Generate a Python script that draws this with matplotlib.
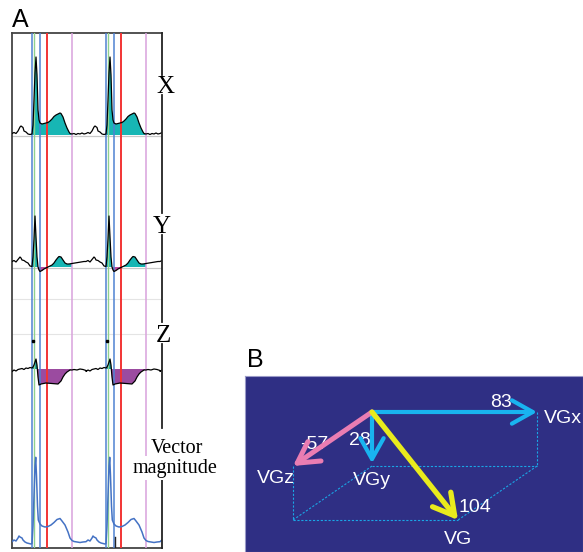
import matplotlib.pyplot as plt
import numpy as np

W, H = 583, 552

# ---- panel A: beat templates (time in samples from QRS onset, amplitude in px) ----
t_x = [-20, -18, -16, -14, -12, -11, -9, -8, -6, -4, -2, 0, 1, 2, 3, 4, 5, 6, 7, 8,
       10, 12, 14, 16, 18, 20, 22, 24, 26, 28, 29, 31, 33, 35, 37, 38, 40, 42, 44, 46, 48, 50, 52, 54]
amp_x = [1.5, 2.5, 1.5, 4, 8, 9, 7.5, 4, 3, 1, 0.5, 1, 10, 35, 62, 78, 60, 25, 15, 12,
         11, 11.5, 12, 12.5, 14, 16, 18.5, 20, 21, 22, 21.5, 18, 12, 7, 3, 1.5, 1, 1.5, 0.5, 1.5, 1, 2, 1, 1.5]

t_y = [-20, -18, -16, -14, -12, -11, -10, -8, -6, -4, -2, 0, 1, 2, 3, 4, 5, 6, 7, 8,
       10, 12, 14, 16, 18, 20, 22, 24, 26, 27, 29, 31, 33, 35, 37, 40, 43, 46, 49, 52, 54]
amp_y = [5.5, 6.5, 5, 7.5, 10, 9, 7, 6.5, 5, 4, 1, 0.5, 10, 28, 51, 30, 10, 0, -3, -4.5,
         -3.5, -2, -1, 0, 1, 2, 4, 7, 9.5, 10.5, 10, 7, 4, 3, 3, 3.5, 4, 4.5, 5, 5.5, 5.5]

t_z = [-20, -18, -16, -14, -12, -10, -8, -6, -4, -2, 0, 1, 2, 3, 4, 5, 6, 7,
       9, 14, 20, 26, 29, 31, 33, 35, 38, 40, 42, 45, 48, 51, 54]
amp_z = [-2.5, -1, -2, -0.5, 0, 0.5, -0.5, 1, 0.5, 1.5, 1, 2, 4, 7, 10, 4, -8, -16,
         -15, -14, -14.5, -15, -12, -8, -5, -3, -1, -1, -0.5, -1, 0, -0.5, -1.5]

t_v = [-20, -18, -16, -14, -13, -12, -10, -9, -7, -5, -3, -1, 0, 1, 2, 3, 3.7, 4.5, 5.5, 6.3,
       8, 10, 13, 16, 19, 22, 25, 28, 30, 33, 36, 38, 40, 42, 45, 48, 51, 54]
amp_v = [4.3, 6, 5, 8, 10, 9, 8, 6, 4, 3, 2.5, 2, 2.5, 20, 50, 80, 88.7, 70, 40, 26,
         22, 20, 19, 19.5, 21, 23.5, 26.5, 27.5, 25, 21, 14, 8, 5.5, 4.5, 4, 3.5, 4, 4.3]

beat_onsets = [20, 94, 168]
t_end = 150
fill_window = (0, 40)
marker_offsets = [0, 1.7, 8.3, 14.8, 40.2]
marker_colors = ["#4f82d2", "#8fd18f", "#4f82d2", "#f23434", "#d9a2dc"]
marker_widths = [1.1, 1.0, 1.1, 1.4, 1.1]

# ---- panel B: vectorgradient components ----
vg_x, vg_y, vg_z = 83, 28, -57
vg_mag = 104


def px_rect(x0, y0, x1, y1):
    return [x0 / W, 1 - y1 / H, (x1 - x0) / W, (y1 - y0) / H]


def tile(t, a):
    xs = np.concatenate([np.asarray(t, float) + o for o in beat_onsets])
    ys = np.concatenate([np.asarray(a, float)] * len(beat_onsets))
    keep = xs <= t_end
    return xs[keep], ys[keep]


def in_window(xs):
    rel = np.array([min((x - o for o in beat_onsets if x - o >= -0.01), default=-99) for x in xs])
    return (rel >= fill_window[0] - 0.01) & (rel <= fill_window[1] + 0.01)


fig = plt.figure(figsize=(W / 100, H / 100), dpi=100)

# ===================== panel A =====================
ax = fig.add_axes(px_rect(12, 33, 162, 548))
ax.set_xlim(0, t_end)
ax.set_ylim(548, 33)
ax.set_xticks([])
ax.set_yticks([])
for s in ["top", "left", "bottom"]:
    ax.spines[s].set_color("#444444")
    ax.spines[s].set_linewidth(1.3)
ax.spines["right"].set_visible(False)

# light separators and baselines
for yy in [299, 333.5]:
    ax.axhline(yy, color="#e4e4e4", lw=0.8, zorder=1)
for yy in [136, 267.5]:
    ax.axhline(yy, color="#c8c8c8", lw=0.9, zorder=1)

teal = "#17b6b4"
leads = [
    (t_x, amp_x, 135, "k", teal, teal),
    (t_y, amp_y, 267, "k", teal, "#bb4a9e"),
    (t_z, amp_z, 369, "k", "#139f9c", "#9b4ba0"),
]
for t, a, base, lc, cpos, cneg in leads:
    xs, amp = tile(t, a)
    ys = base - amp
    win = in_window(xs)
    ax.fill_between(xs, base, ys, where=win & (amp >= 0), interpolate=True,
                    color=cpos, lw=0, zorder=2)
    ax.fill_between(xs, base, ys, where=win & (amp <= 0), interpolate=True,
                    color=cneg, lw=0, zorder=2)
    ax.plot(xs, ys, color=lc, lw=0.9, zorder=4)

xs, amp = tile(t_v, amp_v)
ax.plot(xs, 546 - amp, color="#4472c4", lw=1.1, zorder=4)

# vertical timing markers
for o in beat_onsets[:2]:
    for off, c, w in zip(marker_offsets, marker_colors, marker_widths):
        ax.axvline(o + off, color=c, lw=w, zorder=3)
    ax.plot([o + 1.3], [341], marker="s", ms=1.8, color="k", zorder=5)
ax.plot([beat_onsets[1] + 9, beat_onsets[1] + 9], [537, 547], color="#222222", lw=1.0, zorder=5)

# right border with gaps for the lead labels
for y0, y1 in [(33, 75), (95, 213), (235, 322), (344, 428), (477, 548)]:
    ax.plot([t_end, t_end], [y0, y1], color="#222222", lw=1.3, clip_on=False, zorder=5)

serif = "Liberation Serif"
ax.text(153, 93, "X", fontsize=18, family=serif, ha="center", va="baseline", clip_on=False)
ax.text(150, 233, "Y", fontsize=18, family=serif, ha="center", va="baseline", clip_on=False)
ax.text(151, 342, "Z", fontsize=18, family=serif, ha="center", va="baseline", clip_on=False)
box = dict(facecolor="white", edgecolor="none", pad=1.5)
ax.text(165, 453, "Vector", fontsize=14.5, family=serif, ha="center", va="baseline",
        clip_on=False, zorder=6, bbox=box)
ax.text(163, 472.5, "magnitude", fontsize=14.5, family=serif, ha="center", va="baseline",
        clip_on=False, zorder=6, bbox=box)

fig.text(12 / W, 1 - 27 / H, "A", fontsize=18, family="Liberation Sans", ha="left", va="baseline")
fig.text(247 / W, 1 - 367 / H, "B", fontsize=18, family="Liberation Sans", ha="left", va="baseline")

# ===================== panel B =====================
bx = fig.add_axes(px_rect(245, 376, 583, 552))
ox, oy = 372, 412
bx.set_xlim(245 - ox, 583 - ox)
bx.set_ylim(552 - oy, 376 - oy)
bx.set_xticks([])
bx.set_yticks([])
bx.set_facecolor("#2f2f84")
for s in bx.spines.values():
    s.set_color("#9a9ac8")
    s.set_linewidth(0.8)

sx, sy, zx, zy = 1.988, 1.93, 1.386, -0.947


def proj(vx, vy, vz):
    return (vx * sx + vz * zx, vy * sy + vz * zy)


corners = {
    "x": proj(vg_x, 0, 0), "y": proj(0, vg_y, 0), "z": proj(0, 0, vg_z),
    "xy": proj(vg_x, vg_y, 0), "yz": proj(0, vg_y, vg_z), "xyz": proj(vg_x, vg_y, vg_z),
}
edges = [("x", "xy"), ("y", "xy"), ("z", "yz"), ("y", "yz"), ("xy", "xyz"), ("yz", "xyz")]
for a, b in edges:
    (x0, y0), (x1, y1) = corners[a], corners[b]
    bx.plot([x0, x1], [y0, y1], color="#1aa6e6", lw=0.8, ls=(0, (2, 1.5)), zorder=2)

cyan, pink, yellow = "#19b4f0", "#ea7db2", "#e9eb1c"
arrows = [("x", cyan, 3.0, 0), ("y", cyan, 3.0, 2), ("z", pink, 3.6, 0), ("xyz", yellow, 3.8, 0)]
for key, c, lw, shr in arrows:
    bx.annotate("", xy=corners[key], xytext=(0, 0),
                arrowprops=dict(arrowstyle="->,head_length=0.75,head_width=0.42", lw=lw, color=c,
                                shrinkA=0, shrinkB=shr, mutation_scale=20), zorder=4)

lab = dict(color="white", fontsize=14, family="Liberation Sans", ha="center", va="baseline")
tx, ty = corners["x"]
bx.text(tx - 36, ty - 5, str(vg_x), **lab)
bx.text(tx + 26, ty + 11, "VGx", **lab)
tx, ty = corners["y"]
bx.text(tx - 12, ty - 21, str(vg_y), **lab)
bx.text(tx, ty + 19, "VGy", **lab)
tx, ty = corners["z"]
bx.text(tx + 21, ty - 17, str(vg_z), **lab)
bx.text(tx - 17, ty + 17, "VGz", **lab)
tx, ty = corners["xyz"]
bx.text(tx + 17, ty - 8, str(vg_mag), **lab)
bx.text(tx, ty + 24, "VG", **lab)

fig.savefig("out.png", dpi=100)
